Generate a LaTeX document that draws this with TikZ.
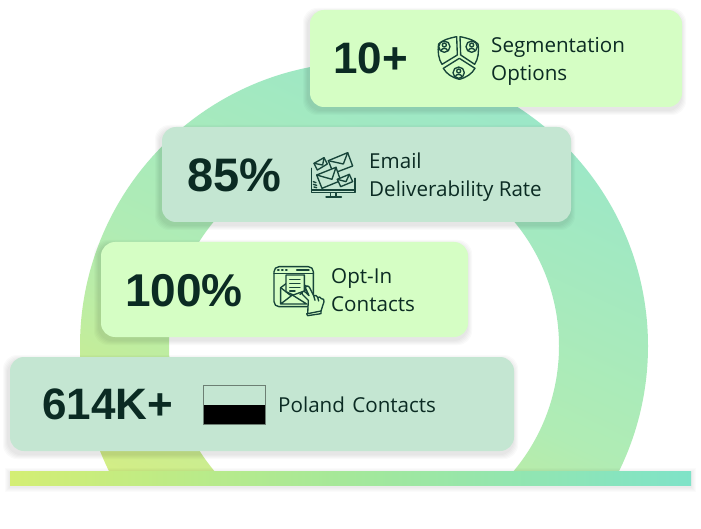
\documentclass[tikz,border=0pt]{standalone}
\usepackage{fontspec}
\setmainfont{Open Sans}
\newfontfamily\numfont{Liberation Sans}[BoldFont={Liberation Sans Bold}]
\definecolor{ink}{HTML}{0B2B23}
\definecolor{icon}{HTML}{17453A}
\definecolor{lime}{HTML}{D5FEC4}
\definecolor{mint}{HTML}{C4E6D2}
\definecolor{ringa}{HTML}{DDEE78}
\definecolor{ringb}{HTML}{B0ECB4}
\definecolor{ringc}{HTML}{9BE7C8}
\definecolor{bara}{HTML}{D4EE74}
\definecolor{barb}{HTML}{A4E89A}
\definecolor{barc}{HTML}{7FE3C8}
\tikzset{
  cardbox/.style={rounded corners=14pt,inner sep=0pt,outer sep=0pt},
  bignum/.style={anchor=west,inner sep=0pt,text=ink,font=\numfont\bfseries\fontsize{#1}{#1}\selectfont},
  label/.style={anchor=west,inner sep=0pt,text=ink,align=left,font=\fontsize{20.6}{27.7}\selectfont},
  iconline/.style={draw=icon,line width=1.35pt,line join=round,line cap=round},
}
\newcommand{\softshadow}[4]{%
  \foreach \e in {1,2,...,5}{
    \fill[black,opacity=0.018,rounded corners=14pt] (#1-2-\e,#2+3-\e) rectangle (#3-1+\e,#4+3+\e);
  }}
\newcommand{\cardnode}[6]{%
  \softshadow{#2}{#3}{#4}{#5}
  \pgfmathsetmacro{\cw}{#4-(#2)}\pgfmathsetmacro{\ch}{#5-(#3)}
  \node[cardbox,fill=#6,minimum width=\cw pt,minimum height=\ch pt] (#1) at ({(#2+#4)/2},{(#3+#5)/2}) {};
}
\begin{document}
\begin{tikzpicture}[x=1pt,y=-1pt]
\useasboundingbox (0,0) rectangle (701,529);
\fill[white] (0,0) rectangle (701,529);
% ring
\begin{scope}
\clip (0,0) rectangle (701,472);
\shade[even odd rule,top color=ringc,bottom color=ringa,middle color=ringb,shading angle=-25]
  (364,346) circle[radius=284] (364,346) circle[radius=195];
\end{scope}
% bar
\foreach \e in {1,2,...,5}{\fill[black,opacity=0.016] (10-\e,471+2-\e) rectangle (691+\e,485+2+\e);}
\shade[left color=bara,right color=barc,middle color=barb] (10,471) rectangle (691,485);
% cards
\cardnode{c1}{310}{10}{682}{107}{lime}
\cardnode{c2}{162}{127}{571}{222}{mint}
\cardnode{c3}{101}{242}{468}{337}{lime}
\cardnode{c4}{10}{357}{514}{451}{mint}
% numbers
\node[bignum=44] (n1) at (333,58.5) {10+};
\node[bignum=47] (n2) at (187,175) {85\%};
\node[bignum=46] (n3) at (125,291) {100\%};
\node[bignum=44] (n4) at (42,404) {614K+};
% labels
\node[label] (l1) at (491,61.5) {Segmentation\\[0.6pt]Options};
\node[label] (l2) at (369,177) {Email\\Deliverability Rate};
\node[label] (l3) at (331,290) {Opt-In\\Contacts};
\node[label] (l4) at (278,404.5) {Poland\hspace{2pt} Contacts};
% flag
\fill[black] (203.5,405) rectangle (265.5,424);
\node[draw=black!45!mint,line width=.8pt,minimum width=62pt,minimum height=39pt,inner sep=0pt] (flag) at (234.5,404.5) {};
% icon 1
\begin{scope}[shift={(420,20)},scale=1/3,iconline]
\draw (110,50) .. controls (85,55) and (68,60) .. (56,72) .. controls (52,95) and (56,118) .. (66,133) -- (112,105) -- cycle;
\draw (120,50) .. controls (145,55) and (162,60) .. (174,72) .. controls (178,95) and (174,118) .. (164,133) -- (122,105) -- cycle;
\draw (70,145) -- (118,115) -- (165,145) .. controls (155,162) and (140,172) .. (118,178) .. controls (95,172) and (80,162) .. (70,145) -- cycle;
\foreach \cx/\cy in {73/80,155/80,116/158}{
  \fill[lime] (\cx,\cy) circle[radius=17];
  \draw (\cx,\cy) circle[radius=17];
  \draw (\cx,\cy-5) circle[radius=6];
  \draw (\cx-10,\cy+12) .. controls (\cx-8,\cy+3) and (\cx+8,\cy+3) .. (\cx+10,\cy+12);
}
\end{scope}
% icon 2
\begin{scope}[shift={(300,140)},scale=1/3,iconline]
\draw (35,85) -- (35,150) -- (165,150) -- (165,115);
\draw (35,150) -- (35,158) -- (165,158) -- (165,150);
\draw (92,160) -- (92,170) (108,160) -- (108,170) (78,171) -- (124,171);
\draw[fill=mint] (42,70) -- (72,53) -- (82,72) -- (52,90) -- cycle;
\draw (42,70) -- (68,75) -- (72,53);
\draw[fill=mint] (85,62) -- (143,38) -- (158,78) -- (100,100) -- cycle;
\draw (85,62) -- (130,72) -- (143,38);
\draw[fill=mint] (50,105) -- (108,82) -- (122,122) -- (66,145) -- cycle;
\draw (50,105) -- (96,118) -- (108,82);
\draw[fill=mint] (112,118) -- (148,103) -- (158,125) -- (122,140) -- cycle;
\draw (112,118) -- (138,125) -- (148,103);
\draw (40,125) -- (48,128) (40,133) -- (50,136) (42,141) -- (50,143);
\end{scope}
% icon 3
\begin{scope}[shift={(265,255)},scale=1/3,iconline]
\draw[rounded corners=5pt] (27,35) rectangle (145,155);
\draw (27,55) -- (145,55);
\draw (38,45) -- (42,45) (50,45) -- (54,45) (62,45) -- (66,45) (95,45) -- (132,45);
\draw (47,98) -- (47,147) -- (125,147) (47,147) -- (82,120) -- (125,147);
\draw (47,98) -- (63,86) (112,86) -- (130,98);
\draw (47,98) -- (78,122) (130,98) -- (105,118);
\draw[fill=lime] (63,110) -- (63,60) -- (118,60) -- (118,108) -- (85,120) -- cycle;
\draw (74,73) -- (105,73) (74,85) -- (105,85) (74,97) -- (105,97) (74,108) -- (90,108);
\draw[fill=lime] (130,136) -- (112,118) .. controls (108,110) and (116,106) .. (122,112) -- (132,122) -- (122,100) .. controls (120,92) and (130,90) .. (134,98) -- (146,122) .. controls (152,120) and (156,122) .. (158,127) .. controls (163,124) and (167,127) .. (169,131) .. controls (175,130) and (178,134) .. (177,140) -- (168,168) -- (128,176) -- cycle;
\draw (125,176) -- (128,182) -- (168,176) -- (168,168);
\draw (146,122) -- (150,136) (158,127) -- (161,138);
\end{scope}
\end{tikzpicture}
\end{document}
